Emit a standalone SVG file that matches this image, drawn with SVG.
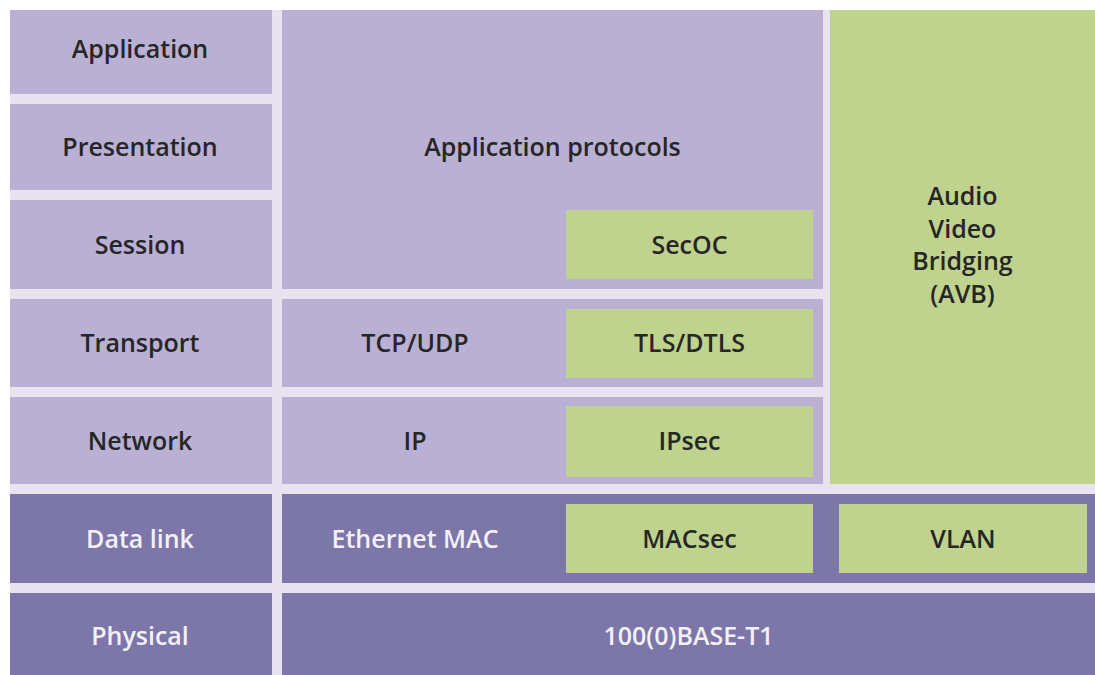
<svg xmlns="http://www.w3.org/2000/svg" width="1095" height="675" viewBox="0 0 1095 675">
<style>
.lp{fill:#bab0d4}
.dp{fill:#7d76a9}
.gr{fill:#bfd28e}
text{font-family:"Open Sans","Noto Sans","Liberation Sans",sans-serif;font-size:25px;font-weight:600;text-anchor:middle}
.dk{fill:#262626}
.wt{fill:#f3f0f7}
</style>
<rect x="0" y="0" width="1095" height="675" fill="#ffffff"/>
<rect x="10" y="10" width="1085" height="665" fill="#e9e3ef"/>
<g id="layer-application"><rect class="lp" x="10" y="10" width="262" height="84"/><text class="dk" x="140" y="58">Application</text></g>
<g id="layer-presentation"><rect class="lp" x="10" y="104" width="262" height="86"/><text class="dk" x="140" y="156">Presentation</text></g>
<g id="layer-session"><rect class="lp" x="10" y="200" width="262" height="89"/><text class="dk" x="140" y="253.5">Session</text></g>
<g id="layer-transport"><rect class="lp" x="10" y="299" width="262" height="88"/><text class="dk" x="140" y="352">Transport</text></g>
<g id="layer-network"><rect class="lp" x="10" y="397" width="262" height="87"/><text class="dk" x="140" y="449.5">Network</text></g>
<g id="layer-datalink"><rect class="dp" x="10" y="494" width="262" height="89"/><text class="wt" x="140" y="547.5">Data link</text></g>
<g id="layer-physical"><rect class="dp" x="10" y="593" width="262" height="82"/><text class="wt" x="140" y="645">Physical</text></g>

<g id="app-protocols"><rect class="lp" x="282" y="10" width="541" height="279"/><text class="dk" x="552.5" y="156">Application protocols</text></g>
<g id="secoc"><rect class="gr" x="566" y="210" width="247" height="69"/><text class="dk" x="689.5" y="253.5">SecOC</text></g>
<g id="tcp-udp"><rect class="lp" x="282" y="299" width="541" height="88"/><text class="dk" x="415" y="352">TCP/UDP</text></g>
<g id="tls-dtls"><rect class="gr" x="566" y="309" width="247" height="69"/><text class="dk" x="689.5" y="352">TLS/DTLS</text></g>
<g id="ip"><rect class="lp" x="282" y="397" width="541" height="87"/><text class="dk" x="415" y="449.5">IP</text></g>
<g id="ipsec"><rect class="gr" x="566" y="406" width="247" height="71"/><text class="dk" x="689.5" y="450">IPsec</text></g>
<g id="avb"><rect class="gr" x="830" y="10" width="265" height="474"/><text class="dk" x="962.5" y="205">Audio</text><text class="dk" x="962.5" y="237.5">Video</text><text class="dk" x="962.5" y="270">Bridging</text><text class="dk" x="962.5" y="302.5">(AVB)</text></g>
<g id="ethernet-mac"><rect class="dp" x="282" y="494" width="813" height="89"/><text class="wt" x="415" y="547.5">Ethernet MAC</text></g>
<g id="macsec"><rect class="gr" x="566" y="504" width="247" height="69"/><text class="dk" x="689.5" y="547.5">MACsec</text></g>
<g id="vlan"><rect class="gr" x="839" y="504" width="248" height="69"/><text class="dk" x="963" y="547.5">VLAN</text></g>
<g id="phy"><rect class="dp" x="282" y="593" width="813" height="82"/><text class="wt" x="688.5" y="645">100(0)BASE-T1</text></g>
<g id="connectors"></g>
</svg>
